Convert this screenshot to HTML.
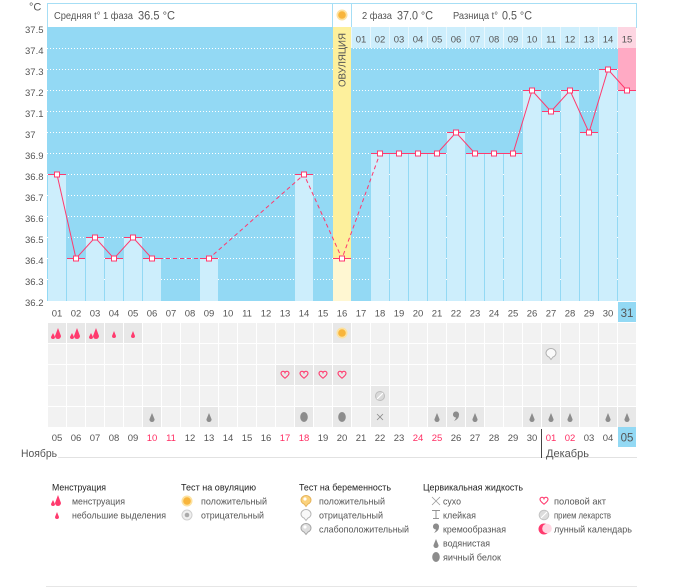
<!DOCTYPE html>
<html><head><meta charset="utf-8">
<style>
html,body{margin:0;padding:0;background:#fff}
svg{display:block}
text{font-family:"Liberation Sans","DejaVu Sans",sans-serif}
</style></head><body>
<svg width="675" height="587" viewBox="0 0 675 587" xmlns="http://www.w3.org/2000/svg">
<defs>
<pattern id="cells" x="48" y="323" width="19" height="21" patternUnits="userSpaceOnUse"><rect width="18" height="20" fill="#f2f2f2"/></pattern>
<path id="gd" d="M0 -5 L2.6 1.4 A2.6 2.6 0 1 1 -2.6 1.4Z" fill="#8c8c8c"/>
<ellipse id="eg" cx="0" cy="0" rx="3.8" ry="5" fill="#8c8c8c"/>
<path id="ht" d="M0 3.2 C-1.5 2 -4 0.2 -4 -1.6 C-4 -3.2 -2.6 -3.9 -1.6 -3.7 C-0.8 -3.6 -0.2 -3 0 -2.4 C0.2 -3 0.8 -3.6 1.6 -3.7 C2.6 -3.9 4 -3.2 4 -1.6 C4 0.2 1.5 2 0 3.2Z" fill="none" stroke="#ff3a6e" stroke-width="1.1"/>
<g id="sun"><circle r="5.5" fill="#fde2a0"/><circle r="3.8" fill="#f8b53c"/></g>
<path id="cream" d="M-3 -2 A3 3 0 1 1 3 -1 Q3 3 -2 5 Q0 2.5 0 1.5 A3 3 0 0 1 -3 -2Z" fill="#8c8c8c"/>
</defs>

<!-- header box -->
<rect x="47.5" y="3.5" width="589" height="24" fill="#fff" stroke="#a6def5"/>
<line x1="332.5" y1="3" x2="332.5" y2="27" stroke="#a6def5"/>
<line x1="351.5" y1="3" x2="351.5" y2="27" stroke="#a6def5"/>
<use href="#sun" x="342" y="15"/>
<g fill="#555">
<text x="54" y="19" font-size="10.5" textLength="79" lengthAdjust="spacingAndGlyphs">Средняя t° 1 фаза</text>
<text x="138" y="19.5" font-size="12" textLength="37" lengthAdjust="spacingAndGlyphs">36.5 °C</text>
<text x="362" y="19" font-size="10.5" textLength="30" lengthAdjust="spacingAndGlyphs">2 фаза</text>
<text x="397" y="19.5" font-size="12" textLength="36" lengthAdjust="spacingAndGlyphs">37.0 °C</text>
<text x="453" y="19" font-size="10.5" textLength="45" lengthAdjust="spacingAndGlyphs">Разница t°</text>
<text x="502" y="19.5" font-size="12" textLength="30" lengthAdjust="spacingAndGlyphs">0.5 °C</text>
</g>

<!-- plot bg -->
<rect x="47" y="27" width="589" height="274" fill="#93d9f4"/>
<g stroke="#fff" stroke-dasharray="1 2">
<line x1="47" y1="48.5" x2="636" y2="48.5"/><line x1="47" y1="69.5" x2="636" y2="69.5"/>
<line x1="47" y1="90.5" x2="636" y2="90.5"/><line x1="47" y1="111.5" x2="636" y2="111.5"/>
<line x1="47" y1="132.5" x2="636" y2="132.5"/><line x1="47" y1="153.5" x2="636" y2="153.5"/>
<line x1="47" y1="174.5" x2="636" y2="174.5"/><line x1="47" y1="195.5" x2="636" y2="195.5"/>
<line x1="47" y1="216.5" x2="636" y2="216.5"/><line x1="47" y1="237.5" x2="636" y2="237.5"/>
<line x1="47" y1="258.5" x2="636" y2="258.5"/><line x1="47" y1="279.5" x2="636" y2="279.5"/>
</g>

<!-- ovulation column -->
<rect x="333" y="27" width="18" height="274" fill="#fdf09c"/>
<rect x="333" y="258" width="18" height="43" fill="#fff7d2"/>
<text transform="translate(345.5,60) rotate(-90)" text-anchor="middle" font-size="10.5" fill="#555" textLength="54" lengthAdjust="spacingAndGlyphs">ОВУЛЯЦИЯ</text>

<!-- header day row phase 2 -->
<rect x="351" y="27" width="285" height="21" fill="#e8f7fd"/>
<g fill="#cdeefc">
<rect x="352" y="27" width="18" height="21"/><rect x="371" y="27" width="18" height="21"/><rect x="390" y="27" width="18" height="21"/><rect x="409" y="27" width="18" height="21"/><rect x="428" y="27" width="18" height="21"/><rect x="447" y="27" width="18" height="21"/><rect x="466" y="27" width="18" height="21"/><rect x="485" y="27" width="18" height="21"/><rect x="504" y="27" width="18" height="21"/><rect x="523" y="27" width="18" height="21"/><rect x="542" y="27" width="18" height="21"/><rect x="561" y="27" width="18" height="21"/><rect x="580" y="27" width="18" height="21"/><rect x="599" y="27" width="18" height="21"/>
</g>
<rect x="618" y="27" width="18" height="21" fill="#fdd6e2"/>
<rect x="618" y="48" width="18" height="43" fill="#ffaac4"/>
<g fill="#555" font-size="9.5" text-anchor="middle">
<text x="361" y="42.5">01</text><text x="380" y="42.5">02</text><text x="399" y="42.5">03</text><text x="418" y="42.5">04</text><text x="437" y="42.5">05</text><text x="456" y="42.5">06</text><text x="475" y="42.5">07</text><text x="494" y="42.5">08</text><text x="513" y="42.5">09</text><text x="532" y="42.5">10</text><text x="551" y="42.5">11</text><text x="570" y="42.5">12</text><text x="589" y="42.5">13</text><text x="608" y="42.5">14</text><text x="627" y="42.5">15</text>
</g>

<!-- bars -->
<g fill="#cdeefc">
<rect x="48" y="174" width="18" height="127"/>
<rect x="67" y="258" width="18" height="43"/>
<rect x="86" y="237" width="18" height="64"/>
<rect x="105" y="258" width="18" height="43"/>
<rect x="124" y="237" width="18" height="64"/>
<rect x="143" y="258" width="18" height="43"/>
<rect x="200" y="258" width="18" height="43"/>
<rect x="295" y="174" width="18" height="127"/>
<rect x="371" y="153" width="18" height="148"/>
<rect x="390" y="153" width="18" height="148"/>
<rect x="409" y="153" width="18" height="148"/>
<rect x="428" y="153" width="18" height="148"/>
<rect x="447" y="132" width="18" height="169"/>
<rect x="466" y="153" width="18" height="148"/>
<rect x="485" y="153" width="18" height="148"/>
<rect x="504" y="153" width="18" height="148"/>
<rect x="523" y="90" width="18" height="211"/>
<rect x="542" y="111" width="18" height="190"/>
<rect x="561" y="90" width="18" height="211"/>
<rect x="580" y="132" width="18" height="169"/>
<rect x="599" y="69" width="18" height="232"/>
<rect x="618" y="90" width="18" height="211"/>
</g>

<!-- value lines -->
<g fill="#ff3a6e">
<rect x="48" y="174" width="18" height="1"/>
<rect x="67" y="258" width="18" height="1"/>
<rect x="86" y="237" width="18" height="1"/>
<rect x="105" y="258" width="18" height="1"/>
<rect x="124" y="237" width="18" height="1"/>
<rect x="143" y="258" width="18" height="1"/>
<rect x="200" y="258" width="18" height="1"/>
<rect x="295" y="174" width="18" height="1"/>
<rect x="333" y="258" width="18" height="1"/>
<rect x="371" y="153" width="75" height="1"/>
<rect x="447" y="132" width="18" height="1"/>
<rect x="466" y="153" width="56" height="1"/>
<rect x="523" y="90" width="18" height="1"/>
<rect x="542" y="111" width="18" height="1"/>
<rect x="561" y="90" width="18" height="1"/>
<rect x="580" y="132" width="18" height="1"/>
<rect x="599" y="69" width="18" height="1"/>
<rect x="618" y="90" width="18" height="1"/>
</g>

<!-- connectors -->
<g fill="none" stroke="#ff3a6e" stroke-width="1">
<polyline points="57,174.5 76,258.5 95,237.5 114,258.5 133,237.5 152,258.5"/>
<polyline points="152,258.5 209,258.5 304,174.5 342,258.5 380,153.5" stroke-dasharray="4 3"/>
<polyline points="380,153.5 399,153.5 418,153.5 437,153.5 456,132.5 475,153.5 494,153.5 513,153.5 532,90.5 551,111.5 570,90.5 589,132.5 608,69.5 627,90.5"/>
</g>
<g fill="#fff" stroke="#ff3a6e" stroke-width="1">
<rect x="54.5" y="172" width="5" height="5"/>
<rect x="73.5" y="256" width="5" height="5"/>
<rect x="92.5" y="235" width="5" height="5"/>
<rect x="111.5" y="256" width="5" height="5"/>
<rect x="130.5" y="235" width="5" height="5"/>
<rect x="149.5" y="256" width="5" height="5"/>
<rect x="206.5" y="256" width="5" height="5"/>
<rect x="301.5" y="172" width="5" height="5"/>
<rect x="339.5" y="256" width="5" height="5"/>
<rect x="377.5" y="151" width="5" height="5"/>
<rect x="396.5" y="151" width="5" height="5"/>
<rect x="415.5" y="151" width="5" height="5"/>
<rect x="434.5" y="151" width="5" height="5"/>
<rect x="453.5" y="130" width="5" height="5"/>
<rect x="472.5" y="151" width="5" height="5"/>
<rect x="491.5" y="151" width="5" height="5"/>
<rect x="510.5" y="151" width="5" height="5"/>
<rect x="529.5" y="88" width="5" height="5"/>
<rect x="548.5" y="109" width="5" height="5"/>
<rect x="567.5" y="88" width="5" height="5"/>
<rect x="586.5" y="130" width="5" height="5"/>
<rect x="605.5" y="67" width="5" height="5"/>
<rect x="624.5" y="88" width="5" height="5"/>
</g>

<!-- axis labels -->
<g fill="#555" font-size="9.5">
<text x="29" y="10.5" font-size="11">°C</text>
<text x="25" y="33">37.5</text><text x="25" y="54">37.4</text><text x="25" y="75">37.3</text><text x="25" y="96">37.2</text><text x="25" y="117">37.1</text><text x="25" y="138">37</text><text x="25" y="159">36.9</text><text x="25" y="180">36.8</text><text x="25" y="201">36.7</text><text x="25" y="222">36.6</text><text x="25" y="243">36.5</text><text x="25" y="264">36.4</text><text x="25" y="285">36.3</text><text x="25" y="306">36.2</text>
</g>

<!-- bottom day row -->
<rect x="618" y="302" width="18" height="20" fill="#93d9f4"/>
<g fill="#555" font-size="9.5" text-anchor="middle">
<text x="57" y="316.5">01</text><text x="76" y="316.5">02</text><text x="95" y="316.5">03</text><text x="114" y="316.5">04</text><text x="133" y="316.5">05</text><text x="152" y="316.5">06</text><text x="171" y="316.5">07</text><text x="190" y="316.5">08</text><text x="209" y="316.5">09</text><text x="228" y="316.5">10</text><text x="247" y="316.5">11</text><text x="266" y="316.5">12</text><text x="285" y="316.5">13</text><text x="304" y="316.5">14</text><text x="323" y="316.5">15</text><text x="342" y="316.5">16</text><text x="361" y="316.5">17</text><text x="380" y="316.5">18</text><text x="399" y="316.5">19</text><text x="418" y="316.5">20</text><text x="437" y="316.5">21</text><text x="456" y="316.5">22</text><text x="475" y="316.5">23</text><text x="494" y="316.5">24</text><text x="513" y="316.5">25</text><text x="532" y="316.5">26</text><text x="551" y="316.5">27</text><text x="570" y="316.5">28</text><text x="589" y="316.5">29</text><text x="608" y="316.5">30</text><text x="627" y="317" font-size="11.5">31</text>
</g>

<!-- symbol cells -->
<rect x="48" y="323" width="588" height="104" fill="url(#cells)"/>
<g fill="#e8e8e8">
<rect x="48" y="323" width="18" height="20"/><rect x="67" y="323" width="18" height="20"/><rect x="86" y="323" width="18" height="20"/><rect x="105" y="323" width="18" height="20"/><rect x="124" y="323" width="18" height="20"/><rect x="333" y="323" width="18" height="20"/>
<rect x="542" y="344" width="18" height="20"/>
<rect x="276" y="365" width="18" height="20"/><rect x="295" y="365" width="18" height="20"/><rect x="314" y="365" width="18" height="20"/><rect x="333" y="365" width="18" height="20"/>
<rect x="371" y="386" width="18" height="20"/>
<rect x="143" y="407" width="18" height="20"/><rect x="200" y="407" width="18" height="20"/><rect x="295" y="407" width="18" height="20"/><rect x="333" y="407" width="18" height="20"/><rect x="371" y="407" width="18" height="20"/><rect x="428" y="407" width="18" height="20"/><rect x="447" y="407" width="18" height="20"/><rect x="466" y="407" width="18" height="20"/><rect x="523" y="407" width="18" height="20"/><rect x="542" y="407" width="18" height="20"/><rect x="561" y="407" width="18" height="20"/><rect x="599" y="407" width="18" height="20"/><rect x="618" y="407" width="18" height="20"/>
</g>

<!-- row1 menstruation -->
<g fill="#ff3a6e">
<path d="M58 328 L61 336 A3 3 0 1 1 55 336Z"/><path d="M53 333 L55 337 A2 2 0 1 1 51 337Z"/>
<path d="M77 328 L80 336 A3 3 0 1 1 74 336Z"/><path d="M72 333 L74 337 A2 2 0 1 1 70 337Z"/>
<path d="M96 328 L99 336 A3 3 0 1 1 93 336Z"/><path d="M91 333 L93 337 A2 2 0 1 1 89 337Z"/>
<path d="M114 331 L116 336 A2 2 0 1 1 112 336Z"/>
<path d="M133 331 L135 336 A2 2 0 1 1 131 336Z"/>
</g>
<use href="#sun" x="342" y="333"/>
<!-- row2 pregnancy negative -->
<path d="M546 353 a5 4.5 0 1 1 10 0 a5 4.5 0 0 1 -3 4 l-2 2.5 l-2 -2.5 a5 4.5 0 0 1 -3 -4z" fill="#fafafa" stroke="#b0b0b0"/>
<!-- row3 hearts -->
<use href="#ht" x="285" y="375"/><use href="#ht" x="304" y="375"/><use href="#ht" x="323" y="375"/><use href="#ht" x="342" y="375"/>
<!-- row4 pill -->
<circle cx="380" cy="396" r="4.5" fill="#d9d9d9" stroke="#bdbdbd"/>
<line x1="377" y1="399" x2="383" y2="393" stroke="#fff" stroke-width="1.2"/>
<!-- row5 cervical -->
<use href="#gd" x="152" y="418"/><use href="#gd" x="209" y="418"/>
<use href="#eg" x="304" y="417"/><use href="#eg" x="342" y="417"/>
<g stroke="#8c8c8c" stroke-width="0.8"><line x1="377" y1="414" x2="383" y2="420"/><line x1="383" y1="414" x2="377" y2="420"/></g>
<use href="#gd" x="437" y="418"/>
<use href="#cream" x="456" y="416"/>
<use href="#gd" x="475" y="418"/>
<use href="#gd" x="532" y="418"/><use href="#gd" x="551" y="418"/><use href="#gd" x="570" y="418"/>
<use href="#gd" x="608" y="418"/><use href="#gd" x="627" y="418"/>

<!-- date row -->
<rect x="618" y="427" width="18" height="20" fill="#93d9f4"/>
<g fill="#555" font-size="9.5" text-anchor="middle">
<text x="57" y="441">05</text><text x="76" y="441">06</text><text x="95" y="441">07</text><text x="114" y="441">08</text><text x="133" y="441">09</text><text x="152" y="441" fill="#ff2e63">10</text><text x="171" y="441" fill="#ff2e63">11</text><text x="190" y="441">12</text><text x="209" y="441">13</text><text x="228" y="441">14</text><text x="247" y="441">15</text><text x="266" y="441">16</text><text x="285" y="441" fill="#ff2e63">17</text><text x="304" y="441" fill="#ff2e63">18</text><text x="323" y="441">19</text><text x="342" y="441">20</text><text x="361" y="441">21</text><text x="380" y="441">22</text><text x="399" y="441">23</text><text x="418" y="441" fill="#ff2e63">24</text><text x="437" y="441" fill="#ff2e63">25</text><text x="456" y="441">26</text><text x="475" y="441">27</text><text x="494" y="441">28</text><text x="513" y="441">29</text><text x="532" y="441">30</text><text x="551" y="441" fill="#ff2e63">01</text><text x="570" y="441" fill="#ff2e63">02</text><text x="589" y="441">03</text><text x="608" y="441">04</text><text x="627" y="441.5" font-size="11.5">05</text>
</g>

<!-- months -->
<line x1="58" y1="457.5" x2="637" y2="457.5" stroke="#e2e2e2"/>
<line x1="541.5" y1="429" x2="541.5" y2="458" stroke="#444"/>
<text x="21" y="457" font-size="11" fill="#555" textLength="36" lengthAdjust="spacingAndGlyphs">Ноябрь</text>
<text x="546" y="457" font-size="11" fill="#555" textLength="43" lengthAdjust="spacingAndGlyphs">Декабрь</text>

<!-- legend -->
<g font-size="9.5" fill="#222">
<text x="52" y="490.5" textLength="54" lengthAdjust="spacingAndGlyphs">Менструация</text>
<text x="181" y="490.5" textLength="75" lengthAdjust="spacingAndGlyphs">Тест на овуляцию</text>
<text x="299" y="490.5" textLength="92" lengthAdjust="spacingAndGlyphs">Тест на беременность</text>
<text x="423" y="490.5" textLength="100" lengthAdjust="spacingAndGlyphs">Цервикальная жидкость</text>
</g>
<g font-size="9.5" fill="#555">
<text x="72" y="504.5" textLength="53" lengthAdjust="spacingAndGlyphs">менструация</text>
<text x="72" y="518.5" textLength="94" lengthAdjust="spacingAndGlyphs">небольшие выделения</text>
<text x="201" y="504.5" textLength="66" lengthAdjust="spacingAndGlyphs">положительный</text>
<text x="201" y="518.5" textLength="63" lengthAdjust="spacingAndGlyphs">отрицательный</text>
<text x="319" y="504.5" textLength="66" lengthAdjust="spacingAndGlyphs">положительный</text>
<text x="319" y="518.5" textLength="64" lengthAdjust="spacingAndGlyphs">отрицательный</text>
<text x="319" y="532.5" textLength="90" lengthAdjust="spacingAndGlyphs">слабоположительный</text>
<text x="443" y="504.5" textLength="18" lengthAdjust="spacingAndGlyphs">сухо</text>
<text x="443" y="518.5" textLength="33" lengthAdjust="spacingAndGlyphs">клейкая</text>
<text x="443" y="532.5" textLength="63" lengthAdjust="spacingAndGlyphs">кремообразная</text>
<text x="443" y="546.5" textLength="47" lengthAdjust="spacingAndGlyphs">водянистая</text>
<text x="443" y="560.5" textLength="58" lengthAdjust="spacingAndGlyphs">яичный белок</text>
<text x="554" y="504.5" textLength="52" lengthAdjust="spacingAndGlyphs">половой акт</text>
<text x="554" y="518.5" textLength="57" lengthAdjust="spacingAndGlyphs">прием лекарств</text>
<text x="554" y="532.5" textLength="78" lengthAdjust="spacingAndGlyphs">лунный календарь</text>
</g>
<!-- legend icons -->
<g fill="#ff3a6e">
<path d="M58 495 L61 503 A3 3 0 1 1 55 503Z"/><path d="M53 500 L55 504 A2 2 0 1 1 51 504Z"/>
<path d="M57 512 L59 517 A2 2 0 1 1 55 517Z"/>
</g>
<use href="#sun" x="187" y="501"/>
<circle cx="187" cy="515" r="5" fill="#efefef" stroke="#cfcfcf"/><circle cx="187" cy="515" r="2.3" fill="#aaa"/>
<path d="M301 500 a5 4.5 0 1 1 10 0 a5 4.5 0 0 1 -3 4 l-2 2.5 l-2 -2.5 a5 4.5 0 0 1 -3 -4z" fill="#fbd27c" stroke="#e6b45c"/>
<circle cx="305" cy="499" r="1.6" fill="#fff"/>
<path d="M301 514 a5 4.5 0 1 1 10 0 a5 4.5 0 0 1 -3 4 l-2 2.5 l-2 -2.5 a5 4.5 0 0 1 -3 -4z" fill="#f8f8f8" stroke="#b5b5b5"/>
<path d="M301 528 a5 4.5 0 1 1 10 0 a5 4.5 0 0 1 -3 4 l-2 2.5 l-2 -2.5 a5 4.5 0 0 1 -3 -4z" fill="#dedede" stroke="#a5a5a5"/>
<circle cx="305" cy="527" r="1.6" fill="#fff"/>
<g stroke="#999" stroke-width="0.8"><line x1="432" y1="497" x2="440" y2="505"/><line x1="440" y1="497" x2="432" y2="505"/></g>
<g stroke="#888" stroke-width="0.9"><line x1="432" y1="510.5" x2="440" y2="510.5"/><line x1="436" y1="510.5" x2="436" y2="518.5"/><line x1="433" y1="518.5" x2="439" y2="518.5"/></g>
<use href="#cream" x="436" y="528"/>
<use href="#gd" x="436" y="544"/>
<use href="#eg" x="436" y="557"/>
<use href="#ht" x="544" y="501"/>
<circle cx="544" cy="515" r="4.8" fill="#dcdcdc" stroke="#c4c4c4"/>
<line x1="541" y1="518" x2="547" y2="512" stroke="#fff" stroke-width="1.2"/>
<circle cx="544" cy="529" r="5.5" fill="#ff3a6e"/>
<circle cx="547" cy="528.5" r="4.8" fill="#ffd6e2"/>
<line x1="46" y1="586.5" x2="637" y2="586.5" stroke="#e6e6e6"/>
</svg>
</body></html>
